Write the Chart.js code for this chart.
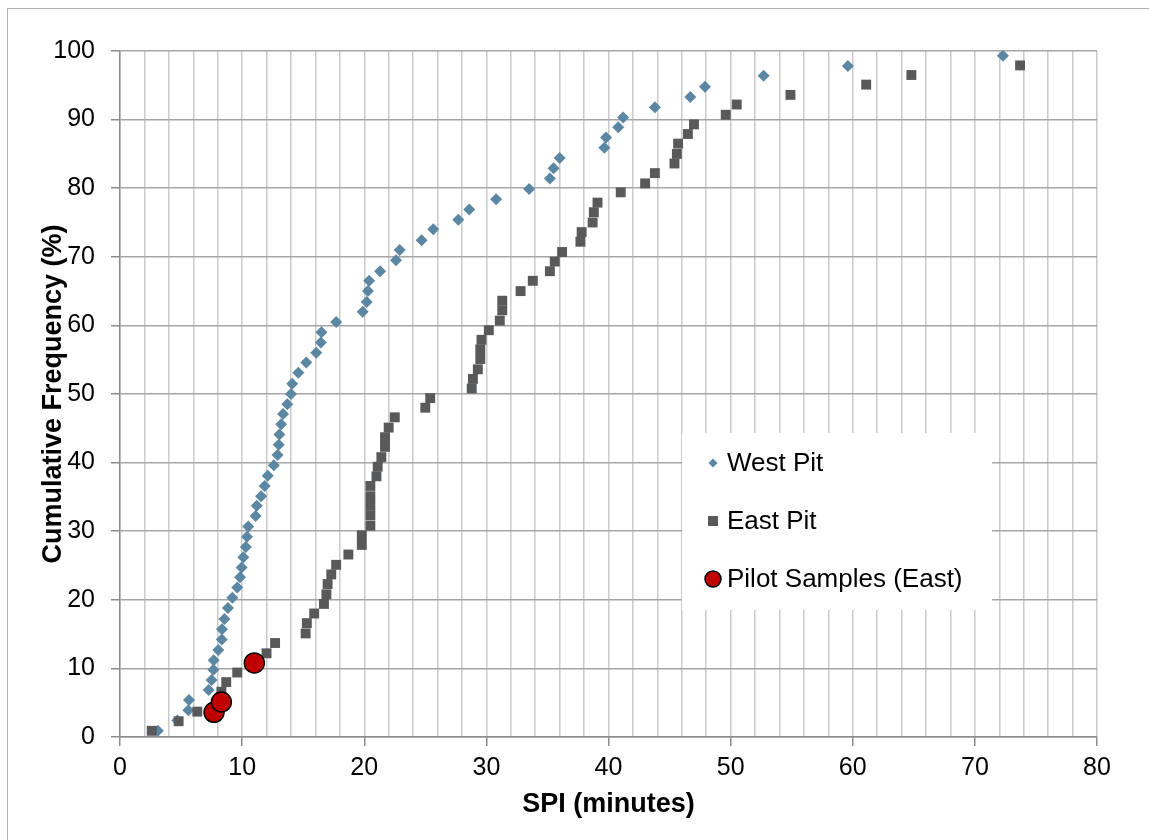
<!DOCTYPE html>
<html>
<head>
<meta charset="utf-8">
<script src="https://cdn.jsdelivr.net/npm/chart.js@4.4.0/dist/chart.umd.min.js"></script>
<style>
  html, body { margin: 0; padding: 0; background: #fff; }
  canvas { display: block; }
</style>
</head>
<body>
<canvas id="spiChart" width="1149" height="840"></canvas>
<script>
// SPI (minutes) and cumulative frequency (%)
const westSpi = [3.1, 4.7, 5.6, 5.65, 7.26, 7.5, 7.65, 7.67, 8.05, 8.33, 8.35, 8.55, 8.84, 9.2, 9.6, 9.83, 9.96, 10.1, 10.3, 10.4,
  10.5, 11.1, 11.2, 11.55, 11.85, 12.1, 12.6, 12.9, 13.0, 13.05, 13.2, 13.35, 13.7, 14.0, 14.1, 14.6, 15.25, 16.07, 16.45, 16.5,
  17.7, 19.87, 20.2, 20.3, 20.4, 21.3, 22.6, 22.9, 24.7, 25.65, 27.7, 28.6, 30.8, 33.5, 35.2, 35.5, 36.0, 39.66, 39.8, 40.8,
  41.2, 43.8, 46.7, 47.9, 52.7, 59.6, 72.3];
const westFreq = [0.9, 2.4, 3.9, 5.4, 6.85, 8.3, 9.8, 11.2, 12.7, 14.2, 15.7, 17.2, 18.8, 20.3, 21.8, 23.3, 24.7, 26.2, 27.7, 29.2,
  30.7, 32.2, 33.7, 35.1, 36.6, 38.1, 39.6, 41.1, 42.6, 44.1, 45.6, 47.1, 48.5, 50.0, 51.5, 53.1, 54.6, 56.0, 57.5, 59.0,
  60.5, 62.0, 63.4, 65.0, 66.5, 67.9, 69.5, 71.0, 72.4, 74.0, 75.4, 76.9, 78.4, 79.9, 81.4, 82.9, 84.4, 85.9, 87.4, 88.9,
  90.3, 91.8, 93.3, 94.8, 96.4, 97.8, 99.3];

const eastSpi = [2.6, 4.8, 6.33, 8.0, 8.3, 8.7, 9.6, 11.0, 12.0, 12.7, 15.2, 15.3, 15.9, 16.7, 16.9, 17.0, 17.3, 17.7, 18.7, 19.8,
  19.8, 20.5, 20.5, 20.5, 20.5, 20.5, 21.0, 21.1, 21.4, 21.7, 21.7, 22.0, 22.5, 25.0, 25.4, 28.8, 28.9, 29.3, 29.5, 29.5,
  29.6, 30.2, 31.1, 31.3, 31.3, 32.8, 33.8, 35.2, 35.6, 36.2, 37.7, 37.8, 38.7, 38.8, 39.1, 41.0, 43.0, 43.8, 45.4, 45.6,
  45.7, 46.5, 47.0, 49.6, 50.5, 54.9, 61.1, 64.8, 73.7];
const eastFreq = [0.9, 2.3, 3.7, 5.1, 6.6, 8.0, 9.4, 10.8, 12.2, 13.7, 15.1, 16.6, 18.0, 19.4, 20.8, 22.3, 23.7, 25.1, 26.6, 28.0,
  29.4, 30.8, 32.3, 33.7, 35.1, 36.6, 38.0, 39.4, 40.8, 42.3, 43.7, 45.1, 46.6, 48.0, 49.4, 50.8, 52.2, 53.6, 55.1, 56.5,
  57.9, 59.3, 60.7, 62.2, 63.6, 65.0, 66.5, 67.9, 69.3, 70.7, 72.2, 73.6, 75.0, 76.5, 77.9, 79.4, 80.7, 82.2, 83.6, 85.0,
  86.5, 87.9, 89.3, 90.7, 92.2, 93.6, 95.1, 96.5, 97.9];

const pilotSpi = [7.7, 8.3, 11.0];
const pilotFreq = [3.6, 5.1, 10.8];

const seriesNames = ['West Pit', 'East Pit', 'Pilot Samples (East)'];

const xTicks = { min: 0, max: 80, gridStep: 2, labelStep: 10 };
const yTicks = { min: 0, max: 100, step: 10 };

const FONT = "'Liberation Sans', Arial, sans-serif";
const WEST_COLOR = '#5b87a3';
const EAST_COLOR = '#58595b';
const PILOT_COLOR = '#c00000';

function toPoints(xs, ys) {
    return xs.map((x, i) => ({ x: x, y: ys[i] }));
}

// Frame around the whole picture (only top and left edges are visible)
const framePlugin = {
    id: 'frame',
    beforeDraw(chart) {
        const ctx = chart.ctx;
        ctx.save();
        ctx.fillStyle = '#fff';
        ctx.fillRect(0, 0, chart.width, chart.height);
        ctx.strokeStyle = '#b3b3b3';
        ctx.lineWidth = 1;
        ctx.strokeRect(7.5, 8.5, chart.width + 20, chart.height + 20);
        ctx.restore();
    }
};

// Legend drawn inside the plot area, like in Excel
const insideLegend = {
    id: 'insideLegend',
    afterDraw(chart) {
        const ctx = chart.ctx;
        const box = { left: 682, top: 433, right: 992, bottom: 610 };
        ctx.save();
        ctx.fillStyle = '#fff';
        ctx.fillRect(box.left, box.top, box.right - box.left, box.bottom - box.top);

        const mx = 713, tx = 727;
        const rows = [463, 521, 579];

        // diamond
        ctx.fillStyle = WEST_COLOR;
        ctx.beginPath();
        ctx.moveTo(mx - 4.5, rows[0]);
        ctx.lineTo(mx, rows[0] - 4.5);
        ctx.lineTo(mx + 4.5, rows[0]);
        ctx.lineTo(mx, rows[0] + 4.5);
        ctx.closePath();
        ctx.fill();

        // square
        ctx.fillStyle = EAST_COLOR;
        ctx.fillRect(mx - 5, rows[1] - 5, 10, 10);

        // circle
        ctx.beginPath();
        ctx.arc(mx, rows[2], 8, 0, Math.PI * 2);
        ctx.fillStyle = PILOT_COLOR;
        ctx.fill();
        ctx.lineWidth = 1.5;
        ctx.strokeStyle = '#000';
        ctx.stroke();

        ctx.fillStyle = '#000';
        ctx.font = '26px ' + FONT;
        ctx.textBaseline = 'middle';
        ctx.textAlign = 'left';
        seriesNames.forEach((name, i) => ctx.fillText(name, tx, rows[i] + 1));
        ctx.restore();
    }
};

const ctx = document.getElementById('spiChart').getContext('2d');
const spiChart = new Chart(ctx, {
    type: 'scatter',
    data: {
        datasets: [{
            label: seriesNames[2],
            data: toPoints(pilotSpi, pilotFreq),
            pointStyle: 'circle',
            pointRadius: 10,
            pointHoverRadius: 10,
            backgroundColor: PILOT_COLOR,
            borderColor: '#000',
            borderWidth: 1.5,
            order: 0
        }, {
            label: seriesNames[1],
            data: toPoints(eastSpi, eastFreq),
            pointStyle: 'rect',
            pointRadius: 7,
            pointHoverRadius: 7,
            backgroundColor: EAST_COLOR,
            borderColor: EAST_COLOR,
            borderWidth: 0,
            order: 1
        }, {
            label: seriesNames[0],
            data: toPoints(westSpi, westFreq),
            pointStyle: 'rectRot',
            pointRadius: 6,
            pointHoverRadius: 6,
            backgroundColor: WEST_COLOR,
            borderColor: WEST_COLOR,
            borderWidth: 0,
            order: 2
        }]
    },
    options: {
        responsive: false,
        animation: false,
        events: [],
        layout: { padding: { left: 0, top: 51, right: 52, bottom: 0 } },
        plugins: {
            legend: { display: false },
            tooltip: { enabled: false }
        },
        scales: {
            x: {
                type: 'linear',
                min: xTicks.min,
                max: xTicks.max,
                afterFit: scale => { scale.height = 103; },
                ticks: {
                    stepSize: xTicks.gridStep,
                    autoSkip: false,
                    maxRotation: 0,
                    padding: 7,
                    color: '#000',
                    font: { family: FONT, size: 25 },
                    callback: v => (v % xTicks.labelStep === 0 ? v : '')
                },
                grid: {
                    color: '#cacaca',
                    lineWidth: 1.5,
                    tickLength: 9,
                    tickColor: c => (c.tick && c.tick.value % xTicks.labelStep === 0 ? '#8c8c8c' : 'rgba(0,0,0,0)')
                },
                border: { color: '#8c8c8c', width: 1.5 },
                title: {
                    display: true,
                    text: 'SPI (minutes)',
                    color: '#000',
                    font: { family: FONT, size: 27, weight: 'bold' },
                    padding: { top: 4, bottom: 19 }
                }
            },
            y: {
                min: yTicks.min,
                max: yTicks.max,
                afterFit: scale => { scale.width = 120; },
                ticks: {
                    stepSize: yTicks.step,
                    padding: 16,
                    color: '#000',
                    font: { family: FONT, size: 25 }
                },
                grid: {
                    color: '#a6a6a6',
                    lineWidth: 1.5,
                    tickLength: 9,
                    tickColor: '#8c8c8c'
                },
                border: { color: '#8c8c8c', width: 1.5 },
                title: {
                    display: true,
                    text: 'Cumulative Frequency (%)',
                    color: '#000',
                    font: { family: FONT, size: 27, weight: 'bold' },
                    padding: { top: 37, bottom: 4 }
                }
            }
        }
    },
    plugins: [framePlugin, insideLegend]
});
</script>
</body>
</html>
